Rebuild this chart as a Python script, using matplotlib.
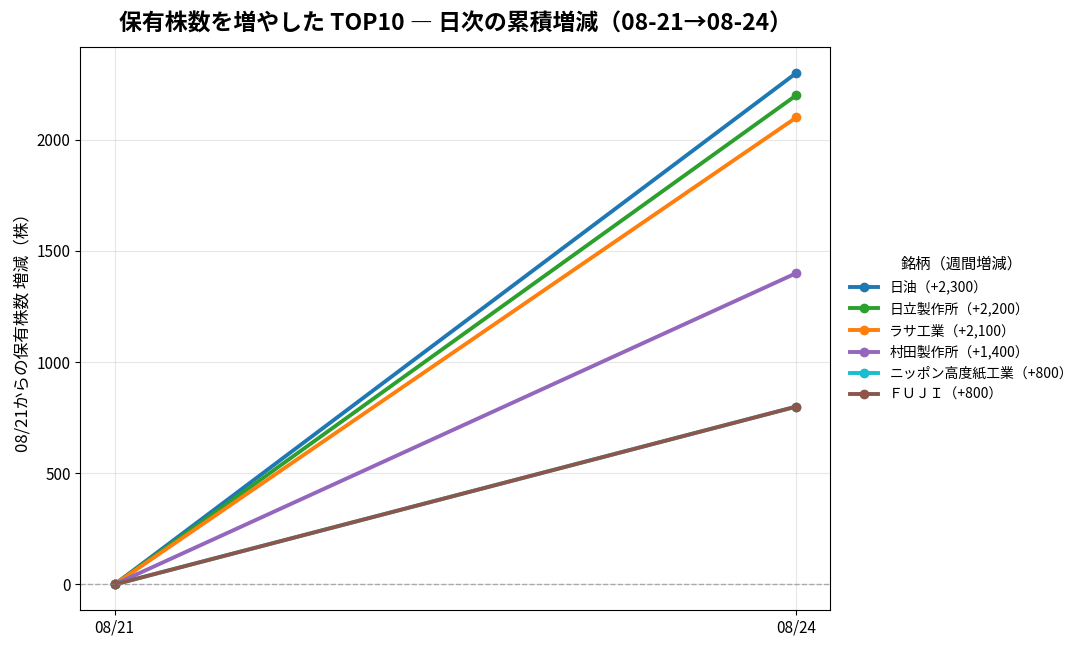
import matplotlib
matplotlib.use("Agg")
import matplotlib.pyplot as plt

plt.rcParams['font.family'] = ['Noto Sans CJK JP', 'DejaVu Sans']

# 日付と各銘柄の累積増減
dates = ["08/21", "08/24"]
names = ["日油", "日立製作所", "ラサ工業", "村田製作所", "ニッポン高度紙工業", "ＦＵＪＩ"]
weekly = [2300, 2200, 2100, 1400, 800, 800]
series = [
    [0, 2300],
    [0, 2200],
    [0, 2100],
    [0, 1400],
    [0, 800],
    [0, 800],
]
colors = ["#1f77b4", "#2ca02c", "#ff7f0e", "#9467bd", "#17becf", "#8c564b"]

fig, ax = plt.subplots(figsize=(10.87, 6.49), dpi=100)

x = list(range(len(dates)))
for name, w, vals, c in zip(names, weekly, series, colors):
    ax.plot(x, vals, marker="o", color=c, linewidth=2.8, markersize=6,
            label=f"{name}（+{w:,}）")

ax.axhline(0, color="gray", linestyle="--", linewidth=1, alpha=0.6)
ax.set_xticks(x)
ax.set_xticklabels(dates)
ax.tick_params(labelsize=11)
ax.grid(True, alpha=0.3)
ax.set_ylabel("08/21からの保有株数 増減（株）", fontsize=12)
ax.set_title("保有株数を増やした TOP10 ― 日次の累積増減（08-21→08-24）",
             fontsize=16.5, fontweight="bold", pad=12)
ax.legend(title="銘柄（週間増減）", loc="center left", bbox_to_anchor=(1.01, 0.5),
          frameon=False, fontsize=10, title_fontsize=11)

fig.subplots_adjust(left=0.074, right=0.764, top=0.927, bottom=0.06)
fig.savefig("out.png")
